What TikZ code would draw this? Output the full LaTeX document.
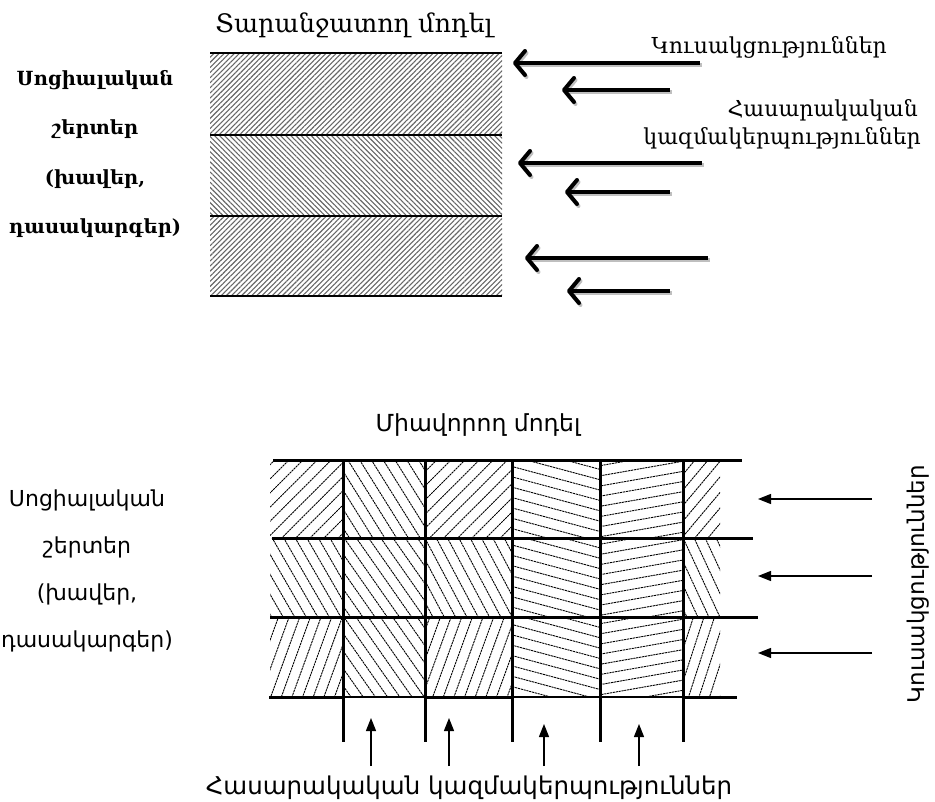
\documentclass[tikz,border=0pt]{standalone}
\usepackage{fontspec}
\setmainfont{DejaVu Serif}
\newfontfamily\armsans{DejaVu Sans}
\usetikzlibrary{arrows.meta,patterns.meta}

\tikzset{
  rule/.style={line width=1.6pt},
  gridline/.style={line width=3pt},
  thingrid/.style={line width=1.3pt},
  band/.style={pattern={Lines[angle=#1,distance=3.6pt,line width=1.1pt]}, pattern color=black!60},
  fatarrow/.style={line width=4pt, -{Straight Barb[length=10pt,width=24pt,round]}},
  fatshadow/.style={fatarrow, black!25},
  slimarrow/.style={line width=1.3pt, -{Triangle[length=13pt,width=10pt]}},
  hatchline/.style={line width=0.9pt, dash pattern=on 2.2pt off 0.7pt},
  sidelabel/.style={inner sep=0pt, font=\bfseries\fontsize{19.5}{24}\selectfont},
  toptitle/.style={inner sep=0pt, font=\fontsize{25.5}{30}\selectfont},
  rightlabel/.style={inner sep=0pt, anchor=east, font=\fontsize{22}{26}\selectfont},
  sanslabel/.style={inner sep=0pt, font=\armsans\fontsize{#1}{#1}\selectfont},
  sanslabel/.default=22,
}

% hatching of one cell: x1 y1 x2 y2 angle
\newcommand\hatchcell[5]{%
  \begin{scope}
    \clip (#1,#2) rectangle (#3,#4);
    \begin{scope}[shift={({(#1+#3)/2},{(#2+#4)/2})}, rotate=#5]
      \foreach \k in {-8,...,8}
        \draw[hatchline] (-75,\k*10) -- (75,\k*10);
    \end{scope}
  \end{scope}}

\begin{document}
\begin{tikzpicture}[x=1pt,y=-1pt]
  \useasboundingbox (0,0) rectangle (935,802);

  % upper picture
  \node[toptitle] (sepmodel) at (354,25) {Տարանջատող մոդել};
  \foreach \t [count=\i] in {Սոցիալական, շերտեր, {(խավեր,}, դասակարգեր)}
    \node[sidelabel] (layer\i) at (95,{80+49.5*(\i-1)}) {\t};

  \fill[band=45] (210,53) rectangle (502,135);
  \fill[band=-45] (210,135) rectangle (502,216);
  \fill[band=45] (210,216) rectangle (502,296);
  \foreach \yy in {53,135,216,296}
    \draw[rule] (210,\yy) -- (502,\yy);

  \node[rightlabel] (parties) at (887,47) {Կուսակցություններ};
  \node[rightlabel] (orgs1) at (918,110) {Հասարակական};
  \node[rightlabel] (orgs2) at (921,138) {կազմակերպություններ};

  \foreach \n/\xs/\xe/\yy in {1/700/513/63, 2/670/562/90, 3/702/518/163,
                              4/670/565/192, 5/708/525/258, 6/670/567/291} {
    \coordinate (fs\n) at (\xs,\yy);
    \coordinate (fe\n) at (\xe,\yy);
  }
  \foreach \n in {1,...,6} {
    \draw[fatshadow] ([shift={(1.5,2)}]fs\n) -- ([shift={(1.5,2)}]fe\n);
    \draw[fatarrow] (fs\n) -- (fe\n);
  }

  % lower picture
  \node[sanslabel=23.5] (unimodel) at (478,425) {Միավորող մոդել};
  \foreach \t [count=\i] in {Սոցիալական, շերտեր, {(խավեր,}, դասակարգեր)}
    \node[sanslabel] (slayer\i) at (87,{500+47*(\i-1)}) {\t};

  \foreach \ya/\yb/\a/\b/\c/\d/\e/\f in {460/538/45/-58/45/-15/10/50,
                                         538/617/-60/-55/-62/-15/10/-65,
                                         617/697/70/-55/70/-15/10/72} {
    \hatchcell{270}{\ya}{343}{\yb}{\a}
    \hatchcell{343}{\ya}{425}{\yb}{\b}
    \hatchcell{425}{\ya}{512}{\yb}{\c}
    \hatchcell{512}{\ya}{600}{\yb}{\d}
    \hatchcell{600}{\ya}{683}{\yb}{\e}
    \hatchcell{683}{\ya}{720}{\yb}{\f}
  }

  \draw[gridline] (273,460) -- (742,460);
  \draw[gridline] (272,538) -- (753,538);
  \draw[gridline] (270,617) -- (758,617);
  \draw[thingrid] (269,697) -- (737,697);
  \draw[gridline] (269,697) -- (343,697) (425,697) -- (512,697) (683,697) -- (737,697);
  \foreach \xx in {343,425,512,600,683}
    \draw[gridline] (\xx,460) -- (\xx,742);

  \node[sanslabel=23, rotate=90] (sparties) at (918,584) {Կուսակցություններ};
  \foreach \n/\yy in {1/499, 2/576, 3/653} {
    \coordinate (ps\n) at (872,\yy);
    \coordinate (pe\n) at (758,\yy);
    \draw[slimarrow] (ps\n) -- (pe\n);
  }

  \node[sanslabel=24.5] (sorgs) at (469,788) {Հասարակական կազմակերպություններ};
  \foreach \n/\xx/\yt in {1/371/718, 2/449/718, 3/544/724, 4/639/724} {
    \coordinate (os\n) at (\xx,766);
    \coordinate (oe\n) at (\xx,\yt);
    \draw[slimarrow] (os\n) -- (oe\n);
  }
\end{tikzpicture}
\end{document}
